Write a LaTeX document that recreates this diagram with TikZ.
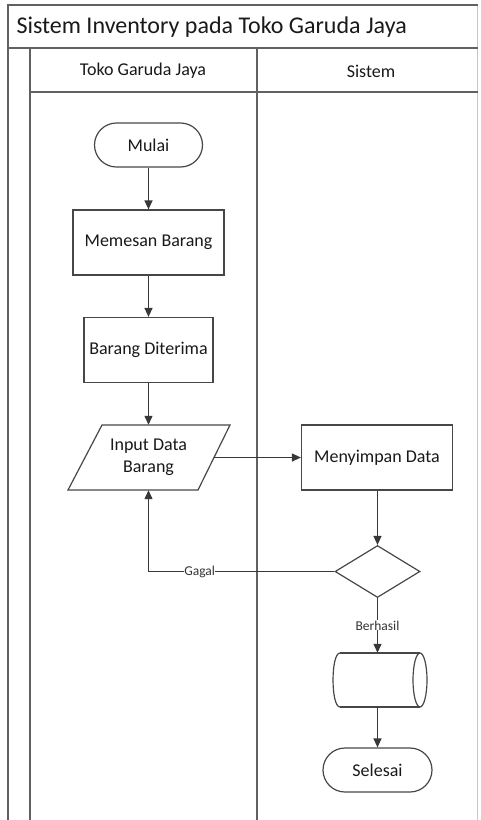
\documentclass[tikz,border=0pt]{standalone}
\usepackage{fontspec}
\setmainfont{Carlito}
\usetikzlibrary{shapes.geometric,arrows.meta}
\begin{document}
\begin{tikzpicture}[x=1pt,y=-1pt,
  lane/.style={draw=black!62, line width=1.7pt},
  faint/.style={draw=black!22, line width=1pt},
  shp/.style={draw=black!72, line width=1.2pt},
  box/.style={shp, minimum width=#1, minimum height=65, inner sep=0pt, font=\fontsize{18}{22}\selectfont, text=black!90},
  term/.style={shp, rounded corners=22pt, minimum width=108, minimum height=44, inner sep=0pt, font=\fontsize{18}{22}\selectfont, text=black!90},
  flow/.style={draw=black!78, line width=1.2pt, -{Triangle[length=9pt,width=8pt]}},
  lbl/.style={font=\fontsize{13.5}{15}\selectfont, fill=white, inner sep=0.3pt, text=black!80}
]
\useasboundingbox (0,0) rectangle (480,820);
% swimlane frame
\draw[faint] (477,5) -- (477,820);
\draw[lane] (8,820) -- (8,5) -- (478,5);
\draw[lane] (8,48) -- (478,48);
\draw[lane] (30,820) -- (30,48);
\draw[lane] (257,820) -- (257,48);
\draw[lane] (30,92) -- (478,92);
\node[anchor=west, font=\fontsize{24}{27}\selectfont, text=black!90] (title) at (13,27) {Sistem Inventory pada Toko Garuda Jaya};
\node[font=\fontsize{18}{21}\selectfont, text=black!90] (laneA) at (143,71) {Toko Garuda Jaya};
\node[font=\fontsize{18}{21}\selectfont, text=black!90] (laneB) at (371,71) {Sistem};
% nodes
\node[term] (mulai) at (148.5,145) {Mulai};
\node[box=151] (pesan) at (148.5,242.5) {Memesan Barang};
\node[box=129] (terima) at (148.5,350) {Barang Diterima};
\draw[shp] (102,425) -- (230,425) -- (198,490) -- (68,490) -- cycle;
\node[minimum width=130, minimum height=65, inner sep=0pt, align=center, font=\fontsize{18}{22}\selectfont, text=black!90] (input) at (148.5,457.5) {Input Data\\Barang};
\node[box=151] (simpan) at (377,457.5) {Menyimpan Data};
\node[diamond, shp, minimum width=85, minimum height=52, inner sep=0pt] (cek) at (377.5,571.5) {};
% storage (horizontal cylinder)
\node[minimum width=94, minimum height=54, inner sep=0pt] (db) at (380,680) {};
\draw[shp] (340,653) -- (420,653);
\draw[shp] (340,707) -- (420,707);
\draw[shp] (340,653) .. controls (330.7,653) and (330.7,707) .. (340,707);
\draw[shp] (420,680) ellipse [x radius=7, y radius=27];
\node[term, minimum width=109] (selesai) at (377.5,770) {Selesai};
% connectors
\draw[flow] (mulai) -- (pesan);
\draw[flow] (pesan) -- (terima);
\draw[flow] (terima) -- (input);
\draw[flow] (input.east) -- (simpan.west);
\draw[flow] (simpan.south -| cek.north) -- (cek.north);
\draw[flow] (cek.south) -- node[lbl, pos=0.5]{Berhasil} (cek.south |- db.north);
\draw[flow] (db.south -| selesai.north) -- (selesai.north);
\draw[flow] (cek.west) -- node[lbl, pos=0.725]{Gagal} (cek.west -| input.south) -- (input.south);
\end{tikzpicture}
\end{document}
